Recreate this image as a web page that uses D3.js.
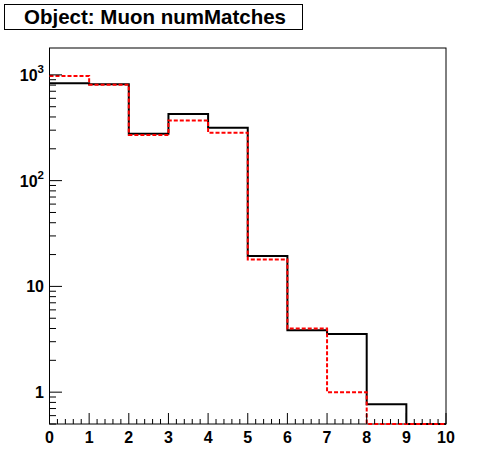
<!DOCTYPE html>
<html lang="en">
<head>
<meta charset="utf-8">
<title>Object: Muon numMatches</title>
<style>
  body { margin: 0; background: #fff; }
  text { font-family: "Liberation Sans", Arial, sans-serif; font-weight: bold; fill: #000; }
  .frame { fill: none; stroke: #000; stroke-width: 1px; }
  .hist { fill: none; stroke-width: 2px; }
</style>
</head>
<body>
<script src="https://d3js.org/d3.v7.min.js"></script>
<script>
  // bin edges and contents
  const binEdges = [0, 1, 2, 3, 4, 5, 6, 7, 8, 9, 10];
  const blackCounts = [835, 817, 278, 426, 316, 19.4, 3.85, 3.55, 0.77, 0];
  const redCounts = [978, 805, 270, 371, 284, 18.0, 4.0, 1.0, 0, 0];
  const xTickLabels = ["0", "1", "2", "3", "4", "5", "6", "7", "8", "9", "10"];
  const yDecades = [1, 10, 100, 1000];

  const W = 496, H = 472;
  const plot = {left: 49.5, right: 446, top: 48, bottom: 424};

  const svg = d3.select("body").append("svg")
    .attr("width", W)
    .attr("height", H);

  const x = d3.scaleLinear().domain([0, 10]).range([plot.left, plot.right]);
  const y = d3.scaleLog().domain([0.5, 1795]).range([plot.bottom, plot.top]);

  // title box
  svg.append("rect")
    .attr("class", "frame")
    .attr("x", 4.5).attr("y", 4.5)
    .attr("width", 298).attr("height", 25);
  svg.append("text")
    .attr("x", 155).attr("y", 24)
    .attr("text-anchor", "middle")
    .style("font-size", "20.5px")
    .text("Object: Muon numMatches");

  // frame
  svg.append("rect")
    .attr("class", "frame")
    .attr("x", plot.left).attr("y", plot.top)
    .attr("width", plot.right - plot.left)
    .attr("height", plot.bottom - plot.top);

  // histogram outlines (no rising edge at the first bin, like ROOT)
  function stepPath(counts) {
    const yv = function(v) { return v > 0.5 ? y(v) : plot.bottom; };
    let d = "";
    counts.forEach(function(c, i) {
      d += (i === 0 ? "M" : "L") + x(binEdges[i]) + "," + yv(c) + "L" + x(binEdges[i + 1]) + "," + yv(c);
    });
    return d;
  }

  svg.append("path")
    .attr("class", "hist")
    .attr("stroke", "#000")
    .attr("d", stepPath(blackCounts));

  svg.append("path")
    .attr("class", "hist")
    .attr("stroke", "#ff0000")
    .attr("stroke-dasharray", "4,2")
    .attr("d", stepPath(redCounts));

  // x axis ticks
  const gx = svg.append("g");
  d3.range(0, 10.001, 0.2).forEach(function(t) {
    const major = Math.abs(t - Math.round(t)) < 1e-6;
    gx.append("line")
      .attr("x1", x(t)).attr("x2", x(t))
      .attr("y1", plot.bottom).attr("y2", plot.bottom - (major ? 11 : 5))
      .attr("stroke", "#000");
  });
  gx.selectAll("text.xl")
    .data(xTickLabels)
    .join("text")
    .attr("class", "xl")
    .attr("x", function(d) { return x(+d); })
    .attr("y", 443)
    .attr("text-anchor", "middle")
    .style("font-size", "16px")
    .text(function(d) { return d; });

  // y axis ticks
  const gy = svg.append("g");
  const yMin = y.domain()[0], yMax = y.domain()[1];
  [0.1, 1, 10, 100, 1000].forEach(function(dec) {
    d3.range(1, 10).forEach(function(m) {
      const v = dec * m;
      if (v < yMin || v > yMax) return;
      gy.append("line")
        .attr("x1", plot.left).attr("x2", plot.left + (m === 1 ? 12.5 : 6.5))
        .attr("y1", y(v)).attr("y2", y(v))
        .attr("stroke", "#000");
    });
  });

  yDecades.forEach(function(v) {
    const t = gy.append("text")
      .attr("x", 44)
      .attr("y", y(v) + 6)
      .attr("text-anchor", "end")
      .style("font-size", "16px");
    if (v === 1) {
      t.text("1");
    } else if (v === 10) {
      t.text("10");
    } else {
      t.append("tspan").text("10");
      t.append("tspan")
        .attr("dy", -8)
        .style("font-size", "11.5px")
        .text(String(Math.round(Math.log10(v))));
    }
  });
</script>
</body>
</html>
